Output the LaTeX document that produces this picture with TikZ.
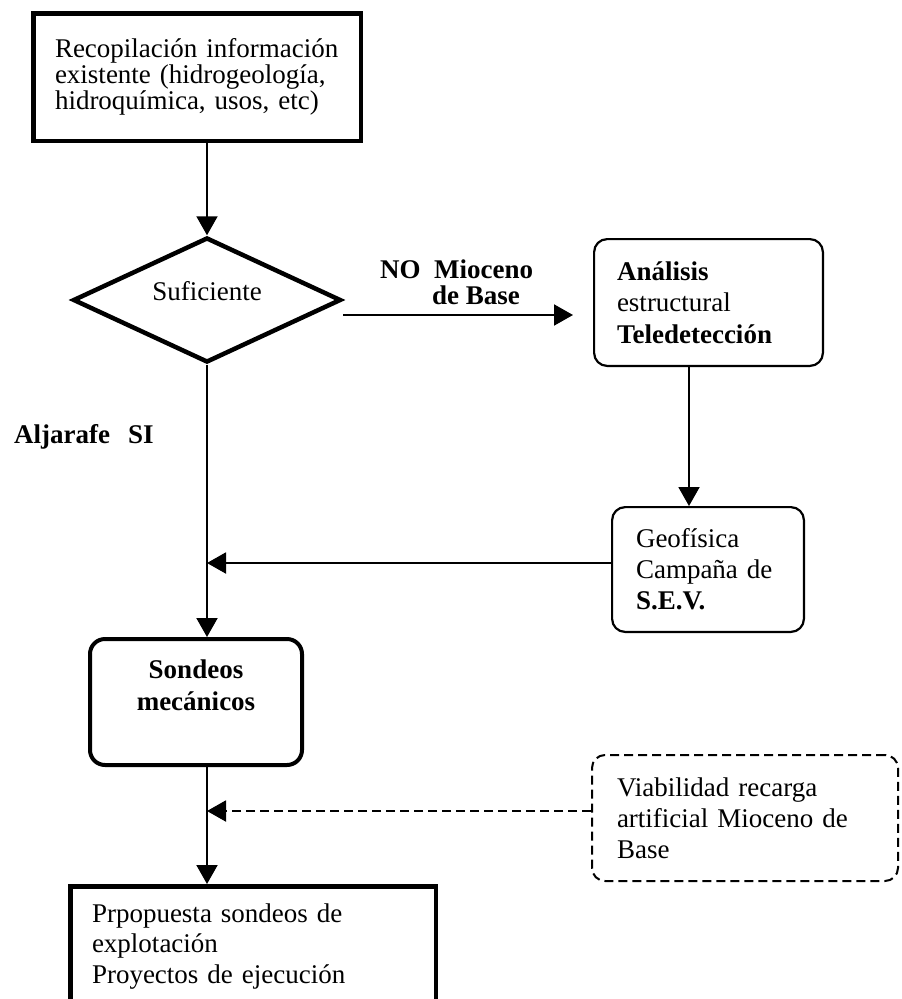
\documentclass[tikz,border=0pt]{standalone}
\usepackage{fontspec}
\setmainfont{Liberation Serif}
\usetikzlibrary{shapes.geometric, arrows.meta}

\begin{document}
\begin{tikzpicture}[x=1pt, y=-1pt,
		>={Triangle[length=19pt, width=21pt]},   %puntas de flecha
		txt/.style={font=\fontsize{27}{#1}\selectfont},
		txtb/.style={font=\bfseries\fontsize{27}{#1}\selectfont},
		negrita/.style={txtb=#1, inner sep=0pt, align=left},
		caja/.style={draw, line width=4.5pt, inner ysep=0pt},
		redonda/.style={draw, line width=2.2pt, rounded corners=13pt, inner ysep=0pt},
		flecha/.style={->, line width=2pt}]
	%marco del dibujo
	\useasboundingbox (0,0) rectangle (902,999);
	\clip (0,0) rectangle (902,999);
	% cajas
	\node[caja, txt=26, minimum width=327.5pt, minimum height=127.5pt, text width=284pt, inner xsep=21.75pt, align=left] (recop) at (197,77) {Recopilación información\\existente (hidrogeología,\\hidroquímica, usos, etc)};
	\node[draw, diamond, aspect=2.14, line width=4.5pt, minimum width=268pt, minimum height=125pt, inner sep=0pt, txt=26, text depth=18pt] (suf) at (207,300) {Suficiente};
	\node[redonda, txt=31.5, minimum width=228.8pt, minimum height=126.8pt, text width=183pt, inner xsep=22.9pt, align=left] (anal) at (708.5,302.5) {\textbf{Análisis}\\estructural\\\textbf{Teledetección}};
	\node[redonda, txt=31, minimum width=191.8pt, minimum height=124.8pt, text width=144pt, inner xsep=23.9pt, align=left] (geof) at (708,569.5) {Geofísica\\Campaña de\\\textbf{S.E.V.}};
	\node[caja, line width=4pt, rounded corners=15pt, txtb=32, minimum width=212pt, minimum height=126pt, align=center] (sond) at (196,702) {Sondeos\\mecánicos\\[2.4pt]\mbox{}};
	\node[redonda, line width=2pt, dash pattern=on 9pt off 5pt, txt=31, minimum width=306pt, minimum height=126pt, text width=256pt, inner xsep=25pt, align=left] (viab) at (745,818) {Viabilidad recarga\\artificial Mioceno de\\Base};
	\node[caja, txt=30.5, minimum width=365.5pt, minimum height=120pt, text width=322pt, inner xsep=21.75pt, align=left] (prop) at (253,946.25) {Prpopuesta sondeos de\\explotación\\Proyectos de ejecución};
	% etiquetas
	\node[negrita=26, anchor=base west] (no) at (380,304) {NO\ \ Mioceno\\\hspace*{52pt}de Base};
	\node[negrita=26, anchor=base west] (si) at (14,443) {Aljarafe\hspace*{18pt}SI};
	% puntos de apoyo
	\coordinate (p1) at ([yshift=-15pt]suf.east);
	\coordinate (p2) at ([xshift=-19.5pt]anal.south);
	\coordinate (p3) at ([yshift=6.5pt]geof.west);
	\coordinate (p4) at ([yshift=7pt]viab.west);
	% flechas
	\draw[flecha] (suf.north |- recop.south) -- (suf.north);
	\draw[flecha, shorten >=20pt] (p1) -- (p1 -| anal.west);
	\draw[flecha] (p2) -- (p2 |- geof.north);
	\draw[flecha] (p3) -- (p3 -| suf.south);
	\draw[flecha] (suf.south) -- (suf.south |- sond.north);
	\draw[flecha] (suf.south |- sond.south) -- (suf.south |- prop.north);
	\draw[flecha, dash pattern=on 9pt off 5pt] (p4) -- (p4 -| suf.south);
\end{tikzpicture}
\end{document}
